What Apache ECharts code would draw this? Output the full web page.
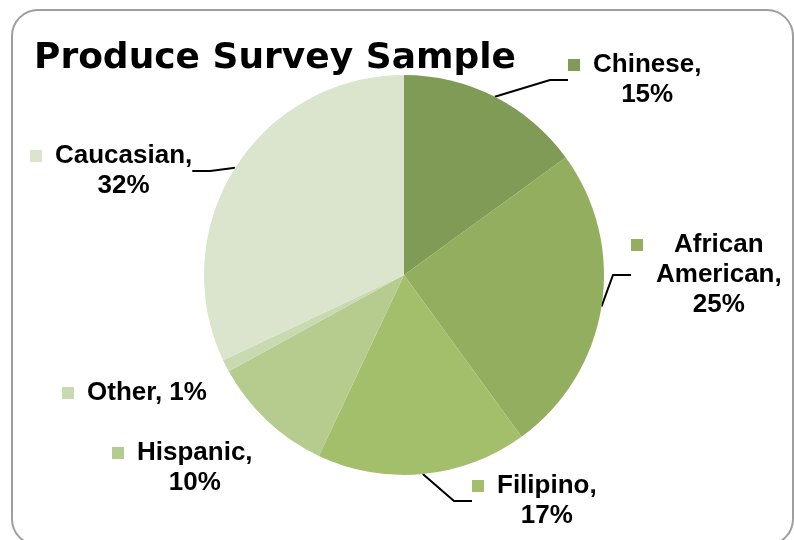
<!DOCTYPE html>
<html>
<head>
<meta charset="utf-8">
<title>Produce Survey Sample</title>
<script src="https://cdn.jsdelivr.net/npm/echarts@6/dist/echarts.min.js"></script>
<style>
html, body { margin: 0; padding: 0; background: #fff; }
#main { width: 794px; height: 540px; }
</style>
</head>
<body>
<div id="main"></div>
<script>
// survey groups, clockwise from 12 o'clock
const groups = ['Chinese', 'African American', 'Filipino', 'Hispanic', 'Other', 'Caucasian'];
const shares = [15, 25, 17, 10, 1, 32];

const colors = ['#7f9b56', '#94ae5f', '#a4bf6b', '#b6cc8f', '#c9d9b2', '#dbe5cd'];
// groups whose label has a leader line
const withLine = ['Chinese', 'African American', 'Filipino', 'Caucasian'];
// top-left corner of each label block (px)
const labelPos = {
  'Chinese': [568, 50],
  'African American': [631, 230],
  'Filipino': [472, 471],
  'Hispanic': [112, 438],
  'Other': [62, 378],
  'Caucasian': [30, 141]
};

let myChart = echarts.init(document.getElementById('main'));

let rich = {
  gap: { width: 13, align: 'left' },
  pad: { width: 25, align: 'left' },
  t: {
    align: 'center',
    fontFamily: '"Liberation Sans", Arial, sans-serif',
    fontWeight: 'bold',
    fontSize: 26,
    lineHeight: 30,
    color: '#000'
  }
};
colors.forEach((c, i) => {
  rich['sq' + i] = { width: 12, height: 12, align: 'left', backgroundColor: c };
});

function labelText (params) {
  let name = params.name;
  let pct = params.value + '%';
  let lines;
  if (name === 'Other') {
    lines = [name + ', ' + pct];
  } else {
    let words = name.split(' ');
    words[words.length - 1] += ',';
    lines = words.concat([pct]);
  }
  return lines.map((l, k) => k === 0
    ? '{sq' + params.dataIndex + '|}{gap|}{t|' + l + '}'
    : '{pad|}{t|' + l + '}').join('\n');
}

myChart.setOption({
  animation: false,
  title: {
    text: 'Produce Survey Sample',
    left: 34,
    top: 41,
    padding: 0,
    textStyle: {
      fontFamily: '"DejaVu Sans", Verdana, sans-serif',
      fontWeight: 'bold',
      fontSize: 36,
      lineHeight: 36,
      color: '#000'
    }
  },
  graphic: [{
    type: 'rect',
    shape: { x: 12, y: 10, width: 781, height: 535, r: 26 },
    style: { fill: 'none', stroke: '#9e9e9e', lineWidth: 2 },
    silent: true
  }],
  series: [{
    type: 'pie',
    center: [404, 275],
    radius: 200,
    startAngle: 90,
    clockwise: true,
    avoidLabelOverlap: false,
    emphasis: { scale: false },
    label: {
      show: true,
      position: 'outside',
      formatter: labelText,
      rich: rich
    },
    labelLine: {
      length: 10,
      length2: 18,
      lineStyle: { color: '#000', width: 2 }
    },
    labelLayout: function (params) {
      let p = labelPos[groups[params.dataIndex]];
      return { x: p[0], y: p[1], align: 'left', verticalAlign: 'top' };
    },
    data: groups.map((g, i) => ({
      name: g,
      value: shares[i],
      itemStyle: { color: colors[i] },
      labelLine: { show: withLine.indexOf(g) > -1 }
    }))
  }]
});

window.addEventListener('resize', () => {
  myChart.resize();
});
</script>
</body>
</html>
